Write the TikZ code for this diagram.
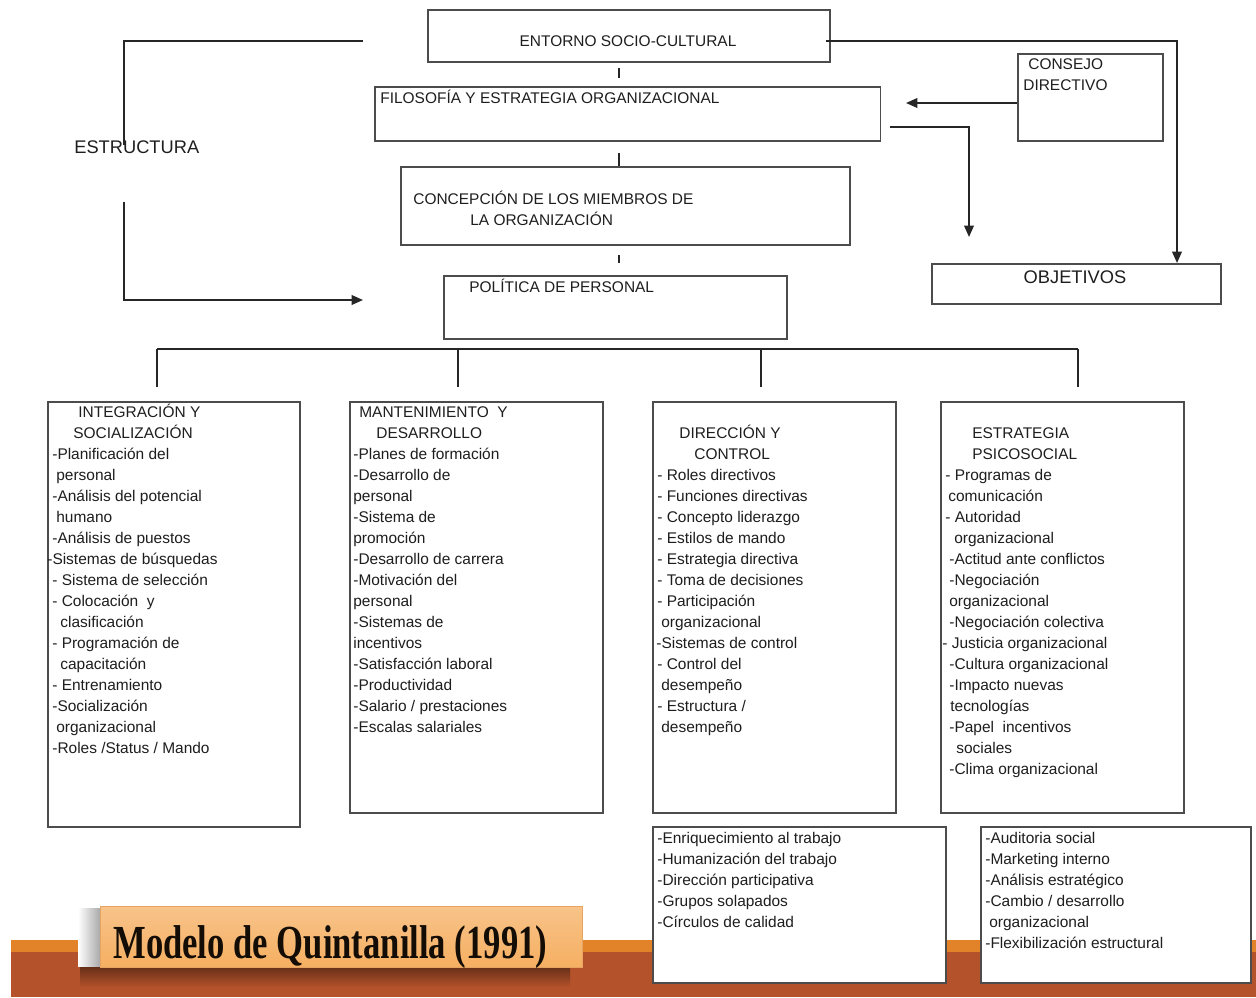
\documentclass[tikz,border=0pt]{standalone}
\usepackage{fontspec}
\setmainfont{Liberation Sans}
\newfontfamily\titlefont{Liberation Serif}
\usetikzlibrary{arrows.meta}
\definecolor{stripe}{HTML}{E2832A}
\definecolor{brick}{HTML}{B4522B}
\definecolor{peach}{HTML}{F5B46C}
\definecolor{ink}{HTML}{1E1E1E}
\newcommand{\ind}[1]{\hspace*{#1cm}}
\begin{document}
\begin{tikzpicture}[x=0.02cm, y=-0.02cm,
    box/.style={draw=black!70, line width=0.9pt, fill=white, anchor=north west, inner sep=0pt},
    txt/.style={inner sep=0pt, text=ink, font=\fontsize{8.8}{11.95}\selectfont},
    list/.style={txt, anchor=north west, align=left},
    big/.style={inner sep=0pt, text=ink, font=\fontsize{10.4}{12.5}\selectfont},
    link/.style={draw=black!85, line width=1pt},
    arrow/.style={link, -{Triangle[length=6.5pt,width=5.5pt]}}]
      \useasboundingbox (0,0) rectangle (1256,997);
      % franja inferior
      \fill[stripe] (11,940) rectangle (1256,952);
      \fill[brick] (11,952) rectangle (1256,997);
      \shade[top color=brick!55!black, bottom color=brick] (80,966) rectangle (570,987);
      \shade[left color=white, right color=black!35] (78,908) rectangle (101,966);
      \draw
        (427,9) node[box, minimum width=8.04cm, minimum height=1.04cm] (entorno){}
        (374,86) node[box, minimum width=10.12cm, minimum height=1.08cm] (filosofia){}
        (400,166) node[box, minimum width=8.98cm, minimum height=1.56cm] (concepcion){}
        (443,275) node[box, minimum width=6.86cm, minimum height=1.26cm] (politica){}
        (1017,53) node[box, minimum width=2.90cm, minimum height=1.74cm] (consejo){}
        (931,263) node[box, minimum width=5.78cm, minimum height=0.80cm] (objetivos){}
        (47,401) node[box, minimum width=5.04cm, minimum height=8.50cm] (integ){}
        (349,401) node[box, minimum width=5.06cm, minimum height=8.22cm] (mant){}
        (652,401) node[box, minimum width=4.86cm, minimum height=8.22cm] (direc){}
        (940,401) node[box, minimum width=4.86cm, minimum height=8.22cm] (estrat){}
        (652,826) node[box, minimum width=5.86cm, minimum height=3.12cm] (enriq){}
        (980,826) node[box, minimum width=5.40cm, minimum height=3.12cm] (audit){};
      \draw
        (628,46.5) node[txt, anchor=base] (entornotxt){ENTORNO SOCIO-CULTURAL}
        (380,103.5) node[txt, anchor=base west] (filosofiatxt){FILOSOFÍA Y ESTRATEGIA ORGANIZACIONAL}
        (413,189.7) node[list] (concepciontxt){\strut CONCEPCIÓN DE LOS MIEMBROS DE\\
          \ind{1.14}LA ORGANIZACIÓN}
        (469,292.5) node[txt, anchor=base west] (politicatxt){POLÍTICA DE PERSONAL}
        (1023,54.7) node[list] (consejotxt){\strut\ind{0.1}CONSEJO\\
          DIRECTIVO}
        (1075,283.5) node[big, anchor=base] (objetivostxt){OBJETIVOS}
        (74,153) node[big, anchor=base west] (estructura){ESTRUCTURA};
      \draw
        (47,402.7) node[list] (integtxt){\strut\ind{0.62}INTEGRACIÓN Y\\
          \ind{0.52}SOCIALIZACIÓN\\
          \ind{0.1}-Planificación del\\
          \ind{0.18}personal\\
          \ind{0.1}-Análisis del potencial\\
          \ind{0.18}humano\\
          \ind{0.1}-Análisis de puestos\\
          -Sistemas de búsquedas\\
          \ind{0.1}- Sistema de selección\\
          \ind{0.1}- Colocación\ \ y\\
          \ind{0.26}clasificación\\
          \ind{0.1}- Programación de\\
          \ind{0.26}capacitación\\
          \ind{0.1}- Entrenamiento\\
          \ind{0.1}-Socialización\\
          \ind{0.18}organizacional\\
          \ind{0.1}-Roles /Status / Mando}
        (349,402.7) node[list] (manttxt){\strut\ind{0.2}MANTENIMIENTO\ \ Y\\
          \ind{0.54}DESARROLLO\\
          \ind{0.08}-Planes de formación\\
          \ind{0.08}-Desarrollo de\\
          \ind{0.08}personal\\
          \ind{0.08}-Sistema de\\
          \ind{0.08}promoción\\
          \ind{0.08}-Desarrollo de carrera\\
          \ind{0.08}-Motivación del\\
          \ind{0.08}personal\\
          \ind{0.08}-Sistemas de\\
          \ind{0.08}incentivos\\
          \ind{0.08}-Satisfacción laboral\\
          \ind{0.08}-Productividad\\
          \ind{0.08}-Salario / prestaciones\\
          \ind{0.08}-Escalas salariales}
        (652,423.7) node[list] (directxt){\strut\ind{0.54}DIRECCIÓN Y\\
          \ind{0.84}CONTROL\\
          \ind{0.1}- Roles directivos\\
          \ind{0.1}- Funciones directivas\\
          \ind{0.1}- Concepto liderazgo\\
          \ind{0.1}- Estilos de mando\\
          \ind{0.1}- Estrategia directiva\\
          \ind{0.1}- Toma de decisiones\\
          \ind{0.1}- Participación\\
          \ind{0.18}organizacional\\
          \ind{0.08}-Sistemas de control\\
          \ind{0.1}- Control del\\
          \ind{0.18}desempeño\\
          \ind{0.1}- Estructura /\\
          \ind{0.18}desempeño}
        (940,423.7) node[list] (estrattxt){\strut\ind{0.64}ESTRATEGIA\\
          \ind{0.64}PSICOSOCIAL\\
          \ind{0.1}- Programas de\\
          \ind{0.16}comunicación\\
          \ind{0.1}- Autoridad\\
          \ind{0.28}organizacional\\
          \ind{0.18}-Actitud ante conflictos\\
          \ind{0.18}-Negociación\\
          \ind{0.18}organizacional\\
          \ind{0.18}-Negociación colectiva\\
          \ind{0.04}- Justicia organizacional\\
          \ind{0.18}-Cultura organizacional\\
          \ind{0.18}-Impacto nuevas\\
          \ind{0.2}tecnologías\\
          \ind{0.18}-Papel\ \ incentivos\\
          \ind{0.32}sociales\\
          \ind{0.18}-Clima organizacional}
        (652,828.7) node[list] (enriqtxt){\strut\ind{0.1}-Enriquecimiento al trabajo\\
          \ind{0.1}-Humanización del trabajo\\
          \ind{0.1}-Dirección participativa\\
          \ind{0.1}-Grupos solapados\\
          \ind{0.1}-Círculos de calidad}
        (980,828.7) node[list] (audittxt){\strut\ind{0.1}-Auditoria social\\
          \ind{0.1}-Marketing interno\\
          \ind{0.1}-Análisis estratégico\\
          \ind{0.1}-Cambio / desarrollo\\
          \ind{0.18}organizacional\\
          \ind{0.1}-Flexibilización estructural};
      \draw
        (100,906) node[box, draw=peach!70!brown, line width=0.6pt, minimum width=9.64cm, minimum height=1.22cm,
          top color=peach!80!white, bottom color=peach!90!orange] (banner){}
        (113,958) node[inner sep=0pt, anchor=base west, text=black!90!brown,
          font=\titlefont\bfseries\fontsize{27}{30}\selectfont] (titulo){\scalebox{0.73}[1]{Modelo de Quintanilla (1991)}};
      \coordinate (entout) at (826,41);
      \coordinate (objtop) at (1177,263);
      \coordinate (consout) at (1017,103);
      \coordinate (consin) at (906,103);
      \coordinate (filout) at (890,127);
      \coordinate (objin) at (969,237);
      \coordinate (estrtop) at (363,41);
      \coordinate (estrup) at (124,145);
      \coordinate (estrlow) at (124,202);
      \coordinate (estrend) at (363,300);
      \coordinate (busL) at (157,349);
      \coordinate (busR) at (1078,349);
      \coordinate (tickA) at (619,68);
      \coordinate (tickB) at (619,153);
      \coordinate (tickC) at (619,255);
      \begin{scope}[link]
        \draw[arrow] (entout) -| (objtop);
        \draw[arrow] (consout) -- (consin);
        \draw[arrow] (filout) -| (objin);
        \draw (estrtop) -| (estrup);
        \draw[arrow] (estrlow) |- (estrend);
        \draw (tickA) -- ++(0,10);
        \draw (tickB) -- (tickB |- concepcion.north);
        \draw (tickC) -- ++(0,8);
        \draw (busL) -- (busR);
        \foreach \n/\x in {integ/157, mant/458, direc/761, estrat/1078} {
          \coordinate (\n top) at (\x,387);
          \draw (\n top) -- (\n top |- busL);
        }
      \end{scope}
    \end{tikzpicture}
\end{document}
